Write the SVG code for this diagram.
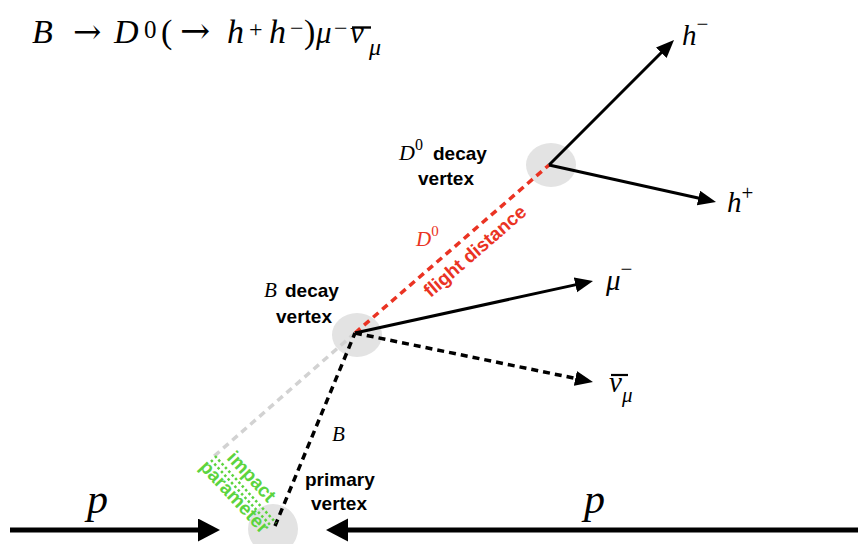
<svg xmlns="http://www.w3.org/2000/svg" width="858" height="544" viewBox="0 0 858 544">
<style>
.math{font-family:"Liberation Serif","Times New Roman",serif;font-style:italic;fill:#000}
.up{font-style:normal}
.arr{font-family:"DejaVu Serif","Liberation Serif",serif;font-style:normal}
.lbl{font-family:"Liberation Sans",Arial,Helvetica,sans-serif;font-weight:bold;font-size:19px;fill:#000}
.vtx{fill:#e3e3e3}
.trk{stroke:#000;stroke-width:3;fill:none}
.dash{stroke-dasharray:7 5;stroke-width:3.5}
.beam{stroke:#000;stroke-width:5;fill:none}
.red{stroke:#ea3323}
.gray{stroke:#d2d2d2}
.green{stroke:#5cd43e;stroke-width:2.5;stroke-dasharray:2.5 2.5}
</style>
<defs>
<marker id="ah" markerUnits="userSpaceOnUse" markerWidth="18" markerHeight="16" refX="2" refY="7.5" orient="auto">
<path d="M0,0 L18,7.5 L0,15 z" fill="#000"/>
</marker>
<marker id="bh" markerUnits="userSpaceOnUse" markerWidth="23" markerHeight="24" refX="2" refY="11.5" orient="auto">
<path d="M0,0 L22,11.5 L0,23 z" fill="#000"/>
</marker>
</defs>
<rect width="858" height="544" fill="#fff"/>

<g id="title">
<text class="math" font-size="34" y="43"><tspan x="32">B</tspan><tspan class="arr" x="73" font-size="34">→</tspan><tspan x="114">D</tspan><tspan class="up" x="144" y="38" font-size="25">0</tspan><tspan class="up" x="161" y="43">(</tspan><tspan class="arr" x="180" font-size="36">→</tspan><tspan x="227">h</tspan><tspan class="up" x="249" y="37" font-size="24">+</tspan><tspan x="269" y="43">h</tspan><tspan class="up" x="290" y="36" font-size="24">−</tspan><tspan class="up" x="304" y="43">)</tspan><tspan x="316" font-size="31">μ</tspan><tspan class="up" x="334" y="36" font-size="24">−</tspan><tspan x="350" y="43" font-size="31">ν</tspan><tspan x="369" y="55" font-size="24">μ</tspan></text>
<line x1="352" y1="27.5" x2="371" y2="27.5" stroke="#000" stroke-width="2.4"/>
</g>

<g id="primary-vertex">
<ellipse class="vtx" cx="273" cy="529" rx="25" ry="25"/>
<text class="lbl" x="305" y="486">primary</text>
<text class="lbl" x="311" y="510">vertex</text>
</g>

<g id="b-decay-vertex">
<ellipse class="vtx" cx="357" cy="335" rx="25" ry="22"/>
<text class="math" font-size="21" x="264" y="297">B</text>
<text class="lbl" x="285" y="297">decay</text>
<text class="lbl" x="276" y="323">vertex</text>
</g>

<g id="d0-decay-vertex">
<ellipse class="vtx" cx="551" cy="165" rx="25" ry="22"/>
<text class="math" font-size="22" x="399" y="160">D<tspan class="up" font-size="16" dy="-10">0</tspan></text>
<text class="lbl" x="433" y="160">decay</text>
<text class="lbl" x="418" y="185">vertex</text>
</g>

<g id="connectors">
<line class="trk dash gray" x1="355" y1="333" x2="212" y2="458"/>
<line class="trk dash red" x1="355" y1="333" x2="549" y2="165"/>
<line class="trk dash" x1="275" y1="526" x2="355" y2="333"/>
<line class="green" x1="211" y1="460" x2="271" y2="526"/>
<line class="green" x1="215" y1="456" x2="276" y2="523"/>
<line class="trk" x1="549" y1="165" x2="662.7" y2="51.3" marker-end="url(#ah)"/>
<line class="trk" x1="549" y1="165" x2="700.4" y2="198.5" marker-end="url(#ah)"/>
<line class="trk" x1="355" y1="333" x2="577.4" y2="284.4" marker-end="url(#ah)"/>
<line class="trk dash" x1="355" y1="333" x2="577.3" y2="378.8" marker-end="url(#ah)"/>
<line class="beam" x1="10" y1="530" x2="200" y2="530" marker-end="url(#bh)"/>
<line class="beam" x1="860" y1="530" x2="346" y2="530" marker-end="url(#bh)"/>
</g>

<g id="track-labels">
<text class="math" font-size="29" x="682" y="45">h<tspan class="up" font-size="21" dy="-14">−</tspan></text>
<text class="math" font-size="29" x="727" y="212">h<tspan class="up" font-size="21" dy="-12">+</tspan></text>
<text class="math" font-size="29" x="606" y="290">μ<tspan class="up" font-size="21" dy="-14">−</tspan></text>
<text class="math" font-size="29" x="609" y="392">ν<tspan font-size="21" dy="10">μ</tspan></text>
<line x1="611" y1="375" x2="628" y2="375" stroke="#000" stroke-width="2.2"/>
<text class="math" font-size="21" x="332" y="441">B</text>
<text class="math" font-size="21" x="416" y="246" style="fill:#ea3323">D<tspan class="up" font-size="15" dy="-10">0</tspan></text>
<text class="lbl" font-size="18" text-anchor="middle" transform="translate(479,256) rotate(-41)" style="fill:#ea3323">flight distance</text>
<text class="lbl" font-size="18" text-anchor="middle" transform="translate(247,481) rotate(47)" style="fill:#5cd43e">impact</text>
<text class="lbl" font-size="18" text-anchor="middle" transform="translate(230,501) rotate(47)" style="fill:#5cd43e">parameter</text>
<text class="math" font-size="42" x="87" y="513">p</text>
<text class="math" font-size="42" x="584" y="513">p</text>
</g>
</svg>
